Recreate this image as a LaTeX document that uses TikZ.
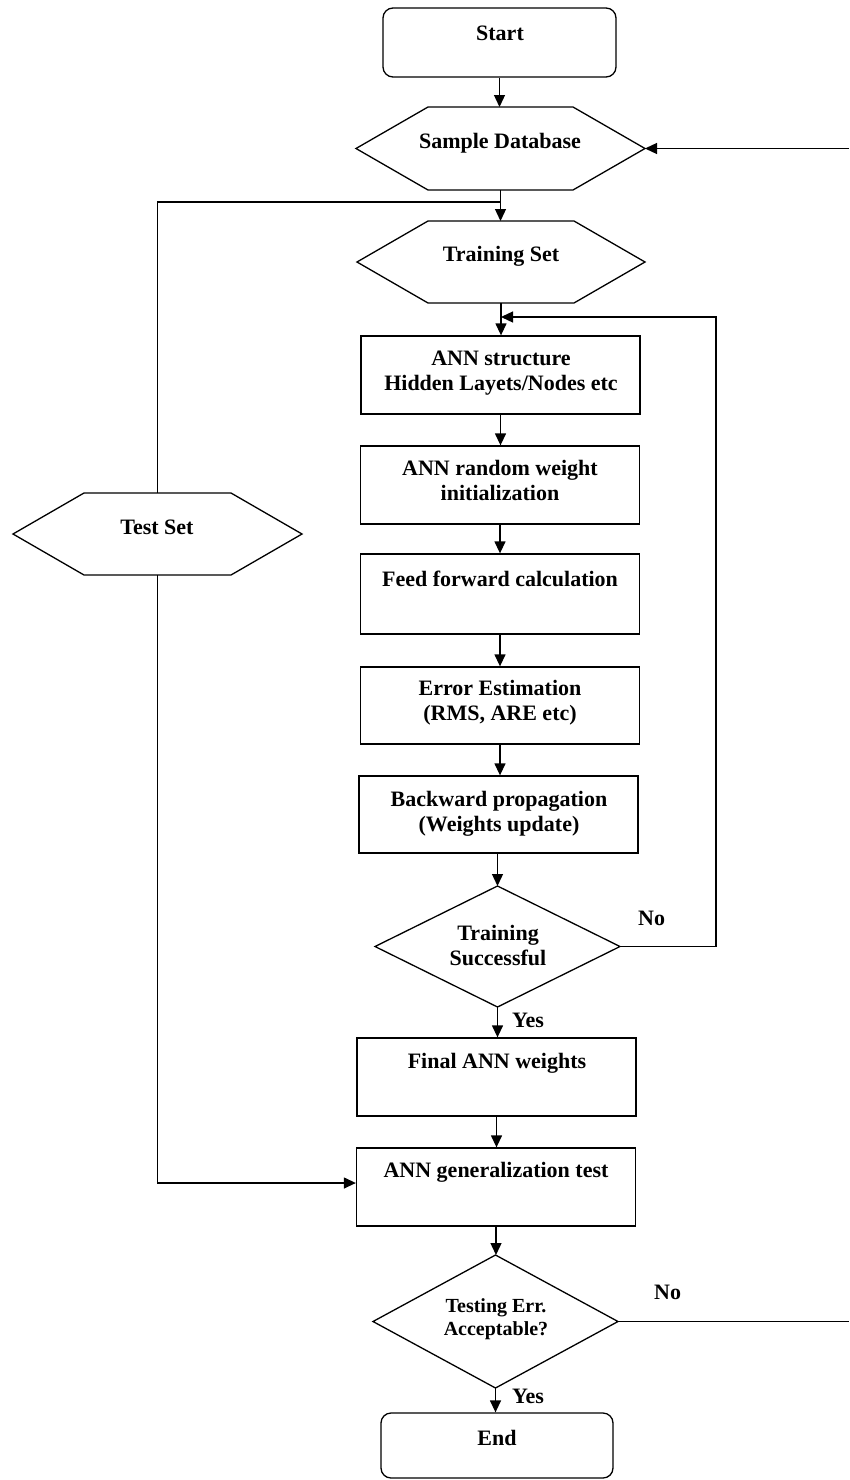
\documentclass[tikz,border=0pt]{standalone}
\usepackage{fontspec}
\setmainfont{Liberation Serif}
\usetikzlibrary{arrows.meta}

% hexagon outline drawn on the frame of a named node: #1 node, #2 run of the slanted sides
\newcommand\hexoutline[2]{%
  \draw[thickline] (#1.west) -- ([xshift=#2]#1.north west) -- ([xshift=-#2]#1.north east)
    -- (#1.east) -- ([xshift=-#2]#1.south east) -- ([xshift=#2]#1.south west) -- cycle;}
% diamond outline drawn on the frame of a named node
\newcommand\diamondoutline[1]{%
  \draw[thickline] (#1.north) -- (#1.east) -- (#1.south) -- (#1.west) -- cycle;}

\begin{document}
\begin{tikzpicture}[x=1pt,y=-1pt,
  thickline/.style={line width=1.3pt},
  box/.style={draw, thickline, minimum width=279pt, minimum height=78pt, inner sep=0pt},
  term/.style={box, rounded corners=10pt},
  frame/.style={inner sep=0pt, outer sep=0pt},
  txt/.style={font=\bfseries\fontsize{22}{25}\selectfont, align=center, anchor=base, inner sep=0pt},
  smalltxt/.style={txt, font=\bfseries\fontsize{20}{23}\selectfont},
  tag/.style={font=\bfseries\fontsize{22}{25}\selectfont, anchor=base west, inner sep=0pt},
  flow/.style={thickline, -{Triangle[length=12pt,width=11pt]}},
  link/.style={thickline}
]
\useasboundingbox (0,0) rectangle (849,1480);

% ---- shapes (two-line texts are placed by the baseline of their last line) ----
\node[term, minimum width=233pt, minimum height=69pt] (start) at (499.5,42.5) {};
\node[txt] (startT) at (500,40.5) {Start};

\node[frame, minimum width=289pt, minimum height=83pt] (sdb) at (500.5,148.5) {};
\hexoutline{sdb}{72pt}
\node[txt] (sdbT) at (500,148) {Sample Database};

\node[frame, minimum width=288pt, minimum height=82pt] (trs) at (501,262) {};
\hexoutline{trs}{71pt}
\node[txt] (trsT) at (501,261.5) {Training Set};

\node[frame, minimum width=289pt, minimum height=82pt] (tset) at (157.5,534) {};
\hexoutline{tset}{71pt}
\node[txt] (tsetT) at (157,534) {Test Set};

\node[box] (struct) at (500.5,375) {};
\node[txt] (structT) at (501,390) {ANN structure\\Hidden Layets/Nodes etc};

\node[box] (init) at (500,485) {};
\node[txt] (initT) at (500,500) {ANN random weight\\initialization};

\node[box, minimum height=80pt] (ff) at (500,594) {};
\node[txt] (ffT) at (500,586) {Feed forward calculation};

\node[box, minimum height=77pt] (err) at (500,705.5) {};
\node[txt] (errT) at (500,720) {Error Estimation\\(RMS, ARE etc)};

\node[box, minimum height=77pt] (bp) at (498.5,814.5) {};
\node[txt] (bpT) at (499,831) {Backward propagation\\(Weights update)};

\node[frame, minimum width=245pt, minimum height=121pt] (ts) at (497.5,946.5) {};
\diamondoutline{ts}
\node[txt] (tsT) at (498,965) {Training\\Successful};

\node[box] (final) at (496.5,1077) {};
\node[txt] (finalT) at (497,1068) {Final ANN weights};

\node[box] (gen) at (496,1187) {};
\node[txt] (genT) at (496,1177) {ANN generalization test};

\node[frame, minimum width=245pt, minimum height=133pt] (te) at (495.5,1321.5) {};
\diamondoutline{te}
\node[smalltxt] (teT) at (496,1335) {Testing Err.\\Acceptable?};

\node[term, minimum width=232pt, minimum height=65pt] (end) at (497,1445.5) {};
\node[txt] (endT) at (497,1445) {End};

% ---- branch labels ----
\node[tag] (noA) at (638,925) {No};
\node[tag] (yesA) at (512,1027) {Yes};
\node[tag] (noB) at (654,1299) {No};
\node[tag] (yesB) at (512,1403) {Yes};

% ---- junction points ----
\coordinate (tsetJoin) at (500.5,202);
\coordinate (loopIn) at (501,317);
\coordinate (loopCorner) at (716,317);
\coordinate (edgeTop) at (849,148.5);
\coordinate (edgeBot) at (849,1321.5);

% ---- connectors ----
\draw[flow] (start.south) -- (start.south |- sdb.north);
\draw[flow] (sdb.south) -- (sdb.south |- trs.north);
\draw[flow] (edgeTop) -- (sdb.east);
\draw[link] (tset.north) |- (tsetJoin);
\draw[flow] (trs.south) -- (trs.south |- struct.north);
\draw[flow] (ts.east) -| (loopCorner) -- (loopIn);
\draw[flow] (struct.south) -- (struct.south |- init.north);
\draw[flow] (init.south) -- (init.south |- ff.north);
\draw[flow] (ff.south) -- (ff.south |- err.north);
\draw[flow] (err.south) -- (err.south |- bp.north);
\draw[flow] (ts.north |- bp.south) -- (ts.north);
\draw[flow] (ts.south) -- (ts.south |- final.north);
\draw[flow] (final.south) -- (final.south |- gen.north);
\draw[flow] (tset.south) |- ([yshift=4pt]gen.west);
\draw[flow] (gen.south) -- (gen.south |- te.north);
\draw[link] (te.east) -- (edgeBot);
\draw[flow] (te.south) -- (te.south |- end.north);
\end{tikzpicture}
\end{document}
